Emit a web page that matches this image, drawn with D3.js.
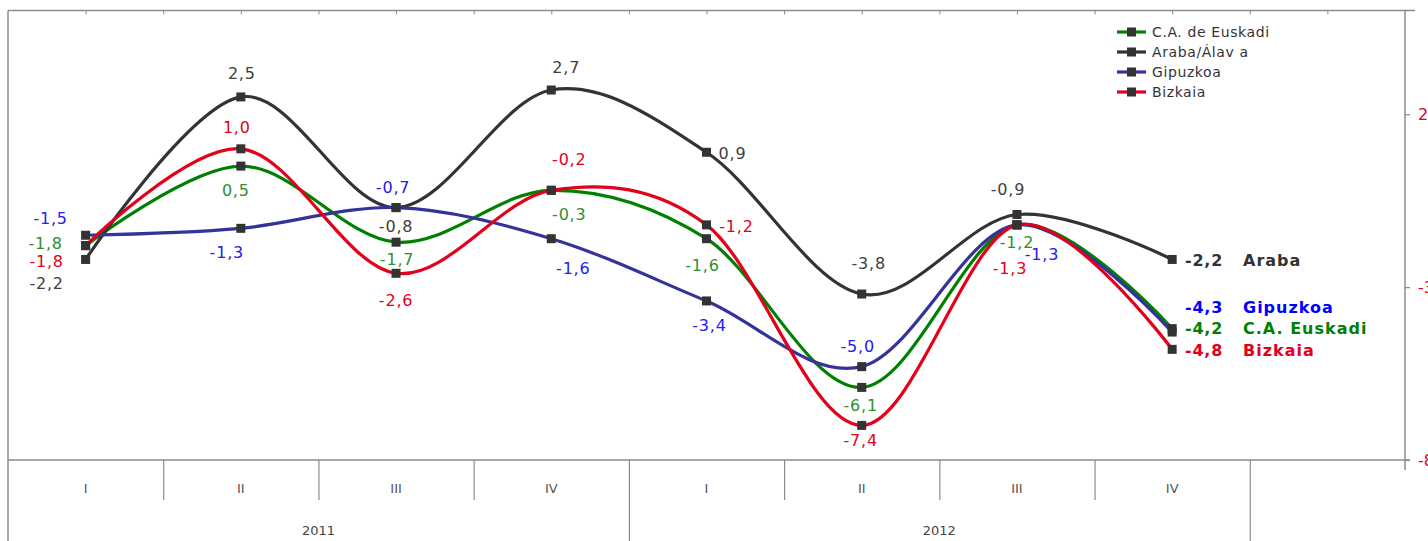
<!DOCTYPE html>
<html>
<head>
<meta charset="utf-8">
<script src="https://cdn.jsdelivr.net/npm/d3@7"></script>
<style>
  html, body { margin: 0; padding: 0; background: #fff; overflow: hidden; }
  svg { display: block; }
  text { font-family: "DejaVu Sans", sans-serif; }
</style>
</head>
<body>
<svg id="chart" width="1428" height="541"></svg>
<script>
// ---------- data ----------
const quarters = ["I", "II", "III", "IV", "I", "II", "III", "IV"];
const years = ["2011", "2012"];
const categories = ["2011-I", "2011-II", "2011-III", "2011-IV", "2012-I", "2012-II", "2012-III", "2012-IV", "blank"];
const yTicks = [2, -3, -8];

const seriesNames = ["C.A. de Euskadi", "Araba/Álav a", "Gipuzkoa", "Bizkaia"];
const euskadi = [-1.8, 0.5, -1.7, -0.2, -1.6, -5.9, -1.2, -4.2];
const araba = [-2.2, 2.5, -0.7, 2.7, 0.9, -3.2, -0.9, -2.2];
const gipuzkoa = [-1.5, -1.3, -0.7, -1.6, -3.4, -5.3, -1.2, -4.3];
const bizkaia = [-1.8, 1.0, -2.6, -0.2, -1.2, -7.0, -1.2, -4.8];

const euskadiLabels = ["-1,8", "0,5", "-1,7", "-0,3", "-1,6", "-6,1", "-1,2", "-4,2"];
const arabaLabels = ["-2,2", "2,5", "-0,8", "2,7", "0,9", "-3,8", "-0,9", "-2,2"];
const gipuzkoaLabels = ["-1,5", "-1,3", "-0,7", "-1,6", "-3,4", "-5,0", "-1,3", "-4,3"];
const bizkaiaLabels = ["-1,8", "1,0", "-2,6", "-0,2", "-1,2", "-7,4", "-1,3", "-4,8"];

const endNames = ["C.A. Euskadi", "Araba", "Gipuzkoa", "Bizkaia"];

// ---------- styles / layout ----------
const lineColors = ["#008000", "#333333", "#333399", "#e2001a"];
const labelColors = ["#2f8f2f", "#404040", "#2020f0", "#e2001a"];
const endColors = ["#008000", "#333333", "#0000ff", "#e2001a"];
// label offsets (dx, dy from point) for the first 7 points of each series
const labelOffsets = [
  [[-40, -2], [-5, 24], [1, 17], [18, 24], [-4, 27], [-1, 18], [0, 18]],
  [[-39, 24], [1, -24], [0, 19], [15, -23], [26, 1], [7, -31], [-9, -25]],
  [[-35, -17], [-14, 24], [-3, -20], [22, 30], [3, 24], [-4, -20], [25, 30]],
  [[-39, 16], [-4, -21], [0, 27], [18, -31], [30, 2], [-1, 15], [-7, 44]]
];
const endValueX = 1185, endNameX = 1243;
const endLabelDy = [0, 1, -25, 1];

(function () {
const W = 1428, H = 541;
const pLeft = 8, pRight = 1405, pTop = 10.5, pBottom = 460;

const svg = d3.select("#chart");

const x = d3.scaleBand().domain(categories).range([pLeft, pRight]).padding(0);
const xi = d3.scaleLinear().domain([0, categories.length]).range([pLeft, pRight]);
const cx = i => x(categories[i]) + x.bandwidth() / 2;
const y = d3.scaleLinear().domain([-8, 5]).range([pBottom, pTop]);

const axisColor = "#8c8c8c";

// frame: top line & left line
svg.append("line").attr("x1", pLeft).attr("x2", 1415).attr("y1", pTop).attr("y2", pTop)
  .attr("stroke", axisColor).attr("stroke-width", 1.5);
svg.append("line").attr("x1", pLeft).attr("x2", pLeft).attr("y1", pTop).attr("y2", H)
  .attr("stroke", axisColor).attr("stroke-width", 1.5);

// top ticks
const topTickVals = d3.range(1, 18).map(k => k * 0.5);
const topAxis = svg.append("g").attr("transform", `translate(0,${pTop})`)
  .call(d3.axisBottom(xi).tickValues(topTickVals).tickSize(4).tickFormat(""));
topAxis.select(".domain").remove();
topAxis.selectAll("line").attr("stroke", axisColor).attr("stroke-width", 1);

// bottom axis line
svg.append("line").attr("x1", pLeft).attr("x2", 1410).attr("y1", pBottom).attr("y2", pBottom)
  .attr("stroke", axisColor).attr("stroke-width", 1.5);

// quarter separators
const qSep = svg.append("g").attr("transform", `translate(0,${pBottom})`)
  .call(d3.axisBottom(xi).tickValues([1, 2, 3, 5, 6, 7]).tickSize(40).tickFormat(""));
qSep.select(".domain").remove();
qSep.selectAll("line").attr("stroke", axisColor).attr("stroke-width", 1.2);
const ySep = svg.append("g").attr("transform", `translate(0,${pBottom})`)
  .call(d3.axisBottom(xi).tickValues([4, 8]).tickSize(H - pBottom).tickFormat(""));
ySep.select(".domain").remove();
ySep.selectAll("line").attr("stroke", axisColor).attr("stroke-width", 1.2);

// quarter labels
svg.append("g").selectAll("text").data(quarters).join("text")
  .attr("x", (d, i) => cx(i)).attr("y", 493)
  .attr("text-anchor", "middle").attr("font-size", 13).attr("fill", "#555")
  .text(d => d);
// year labels
svg.append("g").selectAll("text").data(years).join("text")
  .attr("x", (d, i) => (xi(i * 4) + xi(i * 4 + 4)) / 2).attr("y", 535)
  .attr("text-anchor", "middle").attr("font-size", 13).attr("fill", "#444")
  .text(d => d);

// right axis
const rAxis = svg.append("g").attr("transform", `translate(${pRight},0)`)
  .call(d3.axisRight(y).tickValues(yTicks).tickSize(5).tickPadding(8).tickFormat(d => String(d)));
rAxis.select(".domain").attr("d", `M0,${pTop}V470`).attr("stroke", axisColor).attr("stroke-width", 1.5);
rAxis.selectAll("line").attr("stroke", axisColor).attr("stroke-width", 1.2);
rAxis.selectAll("text").attr("fill", "#e2001a").attr("font-size", 16)
  .attr("font-family", "DejaVu Sans, sans-serif");

// series
const values = [euskadi, araba, gipuzkoa, bizkaia];
const labels = [euskadiLabels, arabaLabels, gipuzkoaLabels, bizkaiaLabels];
const line = d3.line().x((d, i) => cx(i)).y(d => y(d)).curve(d3.curveCardinal.tension(0));

const gLines = svg.append("g");
values.forEach((vals, s) => {
  gLines.append("path").datum(vals).attr("d", line)
    .attr("fill", "none").attr("stroke", lineColors[s]).attr("stroke-width", 3.2)
    .attr("stroke-linejoin", "round");
});
values.forEach((vals, s) => {
  gLines.append("g").selectAll("rect").data(vals).join("rect")
    .attr("x", (d, i) => cx(i) - 4.5).attr("y", d => y(d) - 4.5)
    .attr("width", 9).attr("height", 9).attr("fill", "#333");
});

// data labels
values.forEach((vals, s) => {
  svg.append("g").selectAll("text").data(vals.slice(0, 7)).join("text")
    .attr("x", (d, i) => cx(i) + labelOffsets[s][i][0])
    .attr("y", (d, i) => y(d) + labelOffsets[s][i][1])
    .attr("dy", "0.35em")
    .attr("text-anchor", "middle").attr("font-size", 16).attr("letter-spacing", 0.8)
    .attr("fill", labelColors[s])
    .text((d, i) => labels[s][i]);
});

// end labels
values.forEach((vals, s) => {
  const last = vals.length - 1;
  const yy = y(vals[last]) + endLabelDy[s];
  const g = svg.append("g");
  g.append("text").attr("x", endValueX).attr("y", yy).attr("dy", "0.35em")
    .attr("font-size", 16).attr("font-weight", "bold").attr("letter-spacing", 0.8)
    .attr("fill", endColors[s]).text(labels[s][last]);
  g.append("text").attr("x", endNameX).attr("y", yy).attr("dy", "0.35em")
    .attr("font-size", 16).attr("font-weight", "bold").attr("letter-spacing", 1)
    .attr("fill", endColors[s]).text(endNames[s]);
});

// legend
const legend = svg.append("g");
seriesNames.forEach((name, s) => {
  const ly = 32 + s * 20;
  legend.append("line").attr("x1", 1117).attr("x2", 1146).attr("y1", ly).attr("y2", ly)
    .attr("stroke", lineColors[s]).attr("stroke-width", 3.2);
  legend.append("rect").attr("x", 1127).attr("y", ly - 4.5).attr("width", 9).attr("height", 9).attr("fill", "#333");
  legend.append("text").attr("x", 1152).attr("y", ly).attr("dy", "0.35em")
    .attr("font-size", 14).attr("letter-spacing", 0.6).attr("fill", "#333").text(name);
});
})();
</script>
</body>
</html>
